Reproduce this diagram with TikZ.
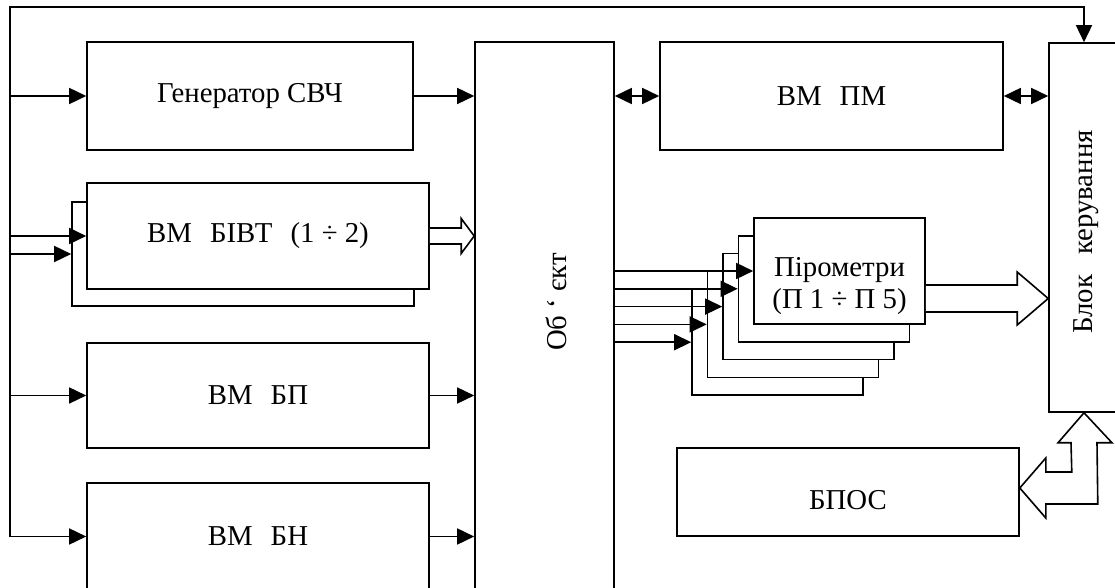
\documentclass[tikz,border=0pt]{standalone}
\usepackage{fontspec}
\setmainfont{Liberation Serif}
\usetikzlibrary{arrows.meta,calc}

\newcommand{\blkfont}{\fontsize{14.4}{16}\selectfont}
% hollow arrow pointing right: from, to, shaft half, head half, head length
\newcommand{\fatarrow}[5]{%
  \draw[fat] ($(#1)+(0,-#3)$) -- ($(#2)+(-#5,-#3)$) -- ($(#2)+(-#5,-#4)$) -- (#2)
    -- ($(#2)+(-#5,#4)$) -- ($(#2)+(-#5,#3)$) -- ($(#1)+(0,#3)$);}

\begin{document}
\begin{tikzpicture}[x=0.5pt,y=-0.5pt,
  blk/.style={draw,line width=0.8pt,fill=white,inner sep=0pt,font=\blkfont},
  txt/.style={inner sep=0pt,font=\blkfont,align=center},
  arr/.style={-{Triangle[length=8.5pt,width=8pt]},line width=0.8pt},
  darr/.style={{Triangle[length=8.5pt,width=8pt]}-{Triangle[length=8.5pt,width=8pt]},line width=0.8pt},
  fat/.style={line width=0.8pt,fill=white,line join=miter}]
\useasboundingbox (0,0) rectangle (1115,588);

%LEFT COLUMN
\node[blk,minimum width=163pt,minimum height=54pt] (gen) at (250,96) {Генератор СВЧ};
\node[blk,minimum width=171pt,minimum height=52pt] (bivtb) at (243,254) {};
\node[blk,minimum width=171pt,minimum height=53pt] (bivt) at (258,236)
  {ВМ\hspace{9pt}БІВТ\hspace{9pt}(1 ÷ 2)};
\node[blk,minimum width=171pt,minimum height=52.5pt] (bp) at (258,395.5) {ВМ\hspace{9pt}БП};
\node[blk,minimum width=171pt,minimum height=53.5pt] (bn) at (258,536.5) {ВМ\hspace{9pt}БН};

%OBJECT
\node[blk,minimum width=69.5pt,minimum height=274pt] (obj) at (544.5,316) {};
\node[txt,rotate=90] (objtxt) at (556,302) {Об ‘ єкт};

%RIGHT PART
\node[blk,minimum width=171.5pt,minimum height=54pt] (pm) at (831.5,96) {ВМ\hspace{9pt}ПМ};
\node[blk,minimum width=35pt,minimum height=184.5pt] (blok) at (1084,227.5) {};
\node[txt,rotate=90] (bloktxt) at (1086,232) {Блок\hspace{10pt}керування};
\foreach \i in {5,...,1}
  \node[blk,minimum width=85.5pt,minimum height=53pt] (p\i)
    at ({839.5-15.5*(\i-1)},{271+17.8*(\i-1)}) {};
\node[txt] (pyrtxt) at (839.5,286) {Пірометри\\(П 1 ÷ П 5)};
\node[blk,minimum width=171pt,minimum height=44pt] (bpos) at (848,492) {};
\node[txt] (bpostxt) at (848,500) {БПОС};

%FEEDBACK BUS
\coordinate (top) at (10,7);
\coordinate (bot) at (10,536.5);
\draw[arr] (bot) -- (top) -- (top -| blok.north) -- (blok.north);
\draw[arr] (top |- gen.west) -- (gen.west);
\draw[arr] (top |- bivt.west) -- (bivt.west);
\draw[arr] (top |- bivtb.west) -- (bivtb.west);
\draw[arr] (top |- bp.west) -- (bp.west);
\draw[arr] (bot) -- (bn.west);

%INTO OBJECT
\draw[arr] (gen.east) -- (gen.east -| obj.west);
\coordinate (bivtend) at (bivt.east -| obj.west);
\fatarrow{bivt.east}{bivtend}{8}{17.5}{13}
\draw[arr] (bp.east) -- (bp.east -| obj.west);
\draw[arr] (bn.east) -- (bn.east -| obj.west);

%OBJECT -> PM -> BLOK
\draw[darr] (obj.east |- pm.west) -- (pm.west);
\draw[darr] (pm.east) -- (pm.east -| blok.west);

%PYROMETERS
\foreach \i in {1,...,5}
  \draw[arr] (obj.east |- p\i.west) -- (p\i.west);
\coordinate (ps) at ([yshift=-13.75pt]p1.east);
\coordinate (pe) at (ps -| blok.west);
\fatarrow{ps}{pe}{13.5}{26.5}{31}

%BPOS
\coordinate (t1) at (blok.south);
\coordinate (t2) at ($(bpos.east)+(0,-4)$);
\draw[fat] (t1) -- ++(28,30) -- ++(-15,0) -- ($(t2)+(78,16)$) -- ($(t2)+(26,16)$)
  -- ++(0,14) -- (t2) -- ++(26,-30) -- ++(0,14) -- ($(t2)+(52,-16)$)
  -- ($(t1)+(-13,30)$) -- ++(-13,0) -- cycle;
\end{tikzpicture}
\end{document}
